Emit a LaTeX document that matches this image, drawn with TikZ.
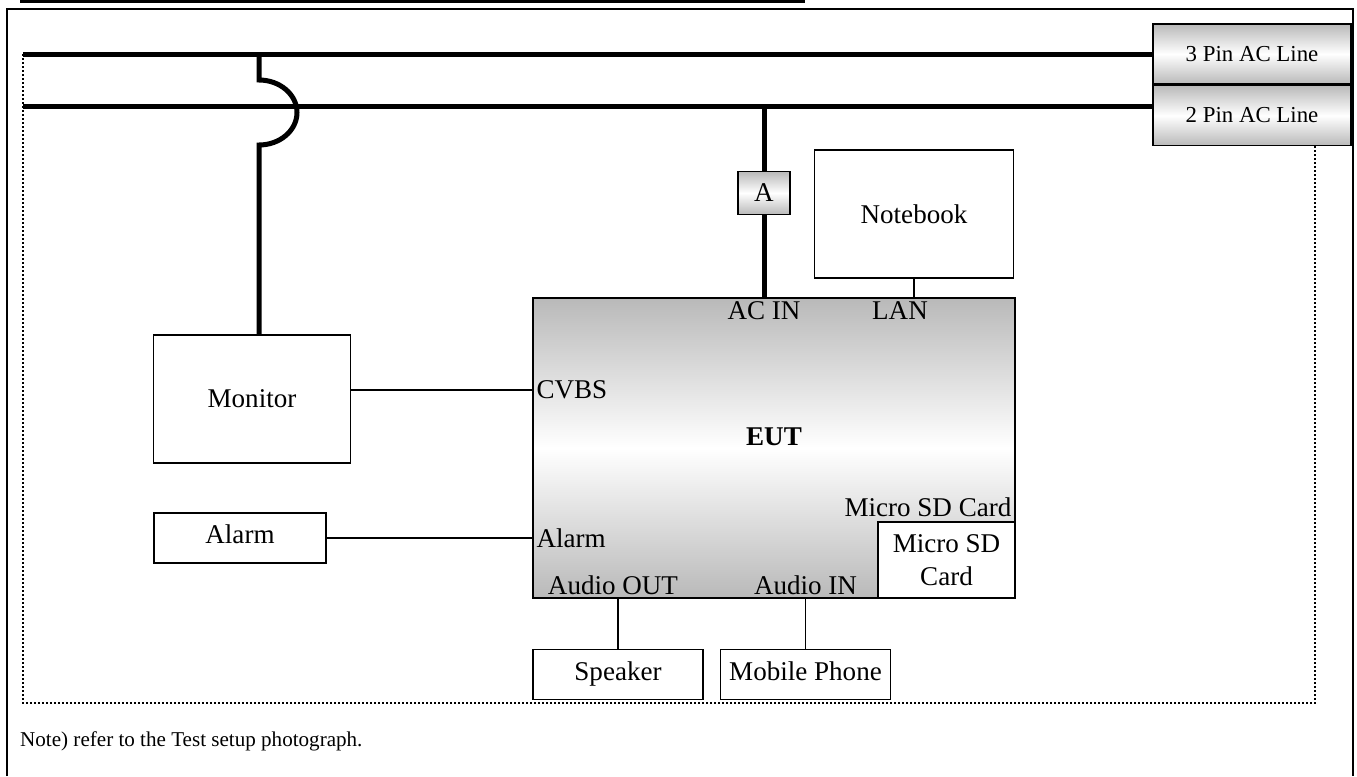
\documentclass[tikz,border=0pt]{standalone}
\usepackage{fontspec}
\setmainfont{Liberation Serif}
\usepackage{tikz}
\usetikzlibrary{calc,positioning}
\definecolor{SetupInk}{HTML}{000000}
\definecolor{SetupGray}{HTML}{B9B9B9}
\newcommand{\labelsize}{\fontsize{15.4}{18.5}\selectfont}
\newcommand{\linesize}{\fontsize{13}{15}\selectfont}
\newcommand{\notesize}{\fontsize{12}{14}\selectfont}
\tikzset{
  mains/.style={line width=1mm,draw=SetupInk},
  wire/.style={line width=0.25mm,draw=SetupInk},
  dev/.style={draw=SetupInk,line width=0.3mm,fill=white,align=center,
    font=\labelsize,inner sep=1pt},
  slimdev/.style={dev,text depth=1.4mm,minimum height=10mm},
  shadedbox/.style={draw=SetupInk,line width=0.3mm,align=center,font=\labelsize,
    inner sep=1pt,top color=SetupGray,bottom color=SetupGray,middle color=white},
  port/.style={inner sep=0.8mm,font=\labelsize},
  setupdots/.style={draw=SetupInk,line width=0.4mm,dash pattern=on 0.4mm off 0.4mm}
}

\begin{document}
\begin{tikzpicture}[x=0.2mm,y=-0.2mm,node distance=0mm]
    \useasboundingbox (0,0) rectangle (1357,776);
    \draw[line width=0.6mm] (20,1.5) -- (805,1.5);
    \draw[line width=0.5mm] (7,776) -- (7,9) -- (1353,9) -- (1353,776);
    \draw[setupdots] (23,54) rectangle (1315,703);

    \node[shadedbox,font=\linesize,minimum width=39.6mm,minimum height=12mm] (threepin) at (1252,54) {3 Pin AC Line};
    \node[shadedbox,font=\linesize,minimum width=39.6mm,minimum height=12mm,below=of threepin] (twopin) {2 Pin AC Line};

    \coordinate (busthree) at (23,54);
    \coordinate (bustwo) at (23,106);
    \draw[mains] (busthree) -- (threepin.west);
    \draw[mains] (bustwo) -- (bustwo -| twopin.west);

    \node[shadedbox,minimum width=10.4mm,minimum height=8.6mm] (abox) at (764,193) {A};
    \node[dev,minimum width=39.8mm,minimum height=25.6mm] (notebook) at (914,214) {Notebook};
    \node[shadedbox,minimum width=96.4mm,minimum height=60mm] (eut) at (774,448) {};
    \node[font=\labelsize\bfseries] (euttxt) at ([yshift=2.2mm]eut.center) {EUT};

    \node[dev,minimum width=39.4mm,minimum height=25.6mm] (monitor) at (252,399) {Monitor};
    \node[slimdev,minimum width=34.4mm] (alarm) at (240,538) {Alarm};
    \node[dev,minimum width=27.4mm,minimum height=15.2mm,anchor=south east] (sdcard) at (eut.south east) {Micro SD\\Card};
    \node[slimdev,minimum width=34mm,anchor=north west] (speaker) at ([yshift=-10mm]eut.south west) {Speaker};
    \node[slimdev,minimum width=34mm,right=3.2mm of speaker] (phone) {Mobile Phone};

    \node[port,anchor=north] (acin) at (abox.south |- eut.north) {AC IN};
    \node[port,anchor=north,xshift=-2.8mm] (lan) at (notebook.south |- eut.north) {LAN};
    \node[port,anchor=west] (cvbs) at (eut.west |- 0,390) {CVBS};
    \node[port,anchor=west] (alarmport) at (eut.west |- alarm) {Alarm};
    \node[port,anchor=south east] (sdlabel) at (sdcard.north east) {Micro SD Card};
    \node[port,anchor=south,xshift=-1mm] (audioout) at (speaker.north |- eut.south) {Audio OUT};
    \node[port,anchor=south] (audioin) at (phone.north |- eut.south) {Audio IN};

    \coordinate (monpwr) at (259,56);
    \draw[mains] (monpwr) -- (259,80) arc[start angle=90,end angle=-90,x radius=7.6mm,y radius=6.5mm] -- (monitor.north -| monpwr);
    \draw[mains] (bustwo -| abox) -- (abox.north);
    \draw[mains] (abox.south) -- (abox.south |- eut.north);
    \draw[wire] (notebook.south) -- (notebook.south |- eut.north);
    \draw[wire] (cvbs.west -| monitor.east) -- (cvbs.west -| eut.west);
    \draw[wire] (alarm.east) -- (alarm.east -| eut.west);
    \draw[wire] (speaker.north) -- (speaker.north |- eut.south);
    \draw[wire] (phone.north) -- (phone.north |- eut.south);

    \node[font=\notesize,anchor=west] (note) at (14,741) {Note) refer to the Test setup photograph.};
\end{tikzpicture}
\end{document}
